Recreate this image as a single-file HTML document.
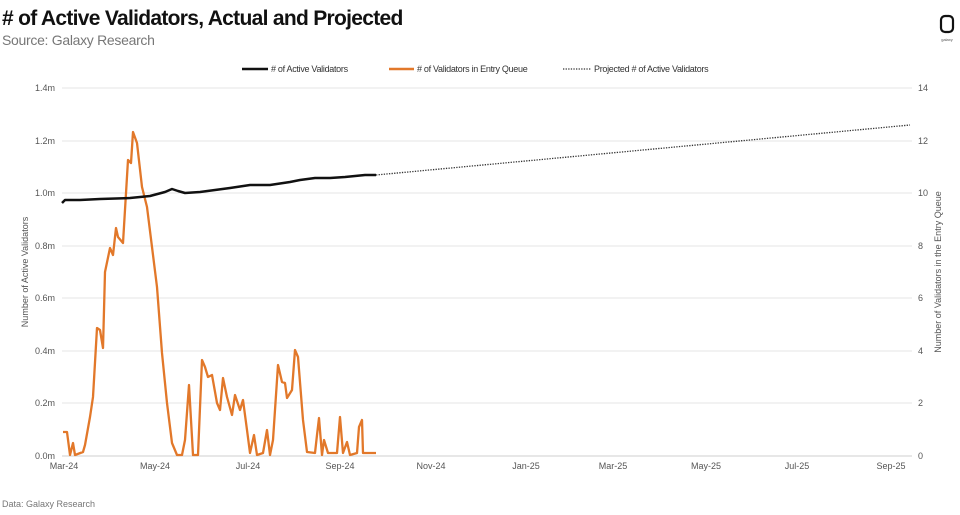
<!DOCTYPE html>
<html><head><meta charset="utf-8"><style>
body{margin:0;background:#fff;}
svg{display:block;font-family:"Liberation Sans",sans-serif;}
</style></head><body>
<svg width="960" height="515" viewBox="0 0 960 515">
<text x="2" y="25" font-size="21" font-weight="bold" fill="#111" letter-spacing="-0.7">&#35; of Active Validators, Actual and Projected</text>
<text x="2" y="45" font-size="14" fill="#777" letter-spacing="-0.3">Source: Galaxy Research</text>
<rect x="941" y="16" width="12" height="16" rx="4" fill="none" stroke="#111" stroke-width="2.2"/>
<text x="947" y="41" font-size="4" fill="#555" text-anchor="middle">galaxy</text>
<g font-size="9" fill="#333" letter-spacing="-0.3">
<line x1="242" y1="69" x2="268" y2="69" stroke="#111" stroke-width="2.5"/>
<text x="271" y="72">&#35; of Active Validators</text>
<line x1="389" y1="69" x2="414" y2="69" stroke="#e2782a" stroke-width="2.5"/>
<text x="417" y="72">&#35; of Validators in Entry Queue</text>
<line x1="563" y1="69" x2="591" y2="69" stroke="#333" stroke-width="1.3" stroke-dasharray="1.3,1.3"/>
<text x="594" y="72">Projected &#35; of Active Validators</text>
</g>
<g stroke="#e6e6e6" stroke-width="1">
<line x1="62" y1="88" x2="912" y2="88"/><line x1="62" y1="141" x2="912" y2="141"/>
<line x1="62" y1="193" x2="912" y2="193"/><line x1="62" y1="246" x2="912" y2="246"/>
<line x1="62" y1="298" x2="912" y2="298"/><line x1="62" y1="351" x2="912" y2="351"/>
<line x1="62" y1="403" x2="912" y2="403"/>
</g>
<line x1="62" y1="456" x2="912" y2="456" stroke="#cfcfcf"/>
<g font-size="9" fill="#555" text-anchor="end">
<text x="55" y="91">1.4m</text><text x="55" y="144">1.2m</text><text x="55" y="196">1.0m</text>
<text x="55" y="249">0.8m</text><text x="55" y="301">0.6m</text><text x="55" y="354">0.4m</text>
<text x="55" y="406">0.2m</text><text x="55" y="459">0.0m</text>
</g>
<g font-size="9" fill="#555">
<text x="918" y="91">14</text><text x="918" y="144">12</text><text x="918" y="196">10</text>
<text x="918" y="249">8</text><text x="918" y="301">6</text><text x="918" y="354">4</text>
<text x="918" y="406">2</text><text x="918" y="459">0</text>
</g>
<g font-size="9" fill="#555" text-anchor="middle">
<text x="64" y="469">Mar-24</text><text x="155" y="469">May-24</text><text x="248" y="469">Jul-24</text>
<text x="340" y="469">Sep-24</text><text x="431" y="469">Nov-24</text><text x="526" y="469">Jan-25</text>
<text x="613" y="469">Mar-25</text><text x="706" y="469">May-25</text><text x="797" y="469">Jul-25</text>
<text x="891" y="469">Sep-25</text>
</g>
<text transform="translate(28,272) rotate(-90)" font-size="9" fill="#555" text-anchor="middle">Number of Active Validators</text>
<text transform="translate(941,272) rotate(-90)" font-size="9" fill="#555" text-anchor="middle">Number of Validators in the Entry Queue</text>
<text x="2" y="507" font-size="9" fill="#777">Data: Galaxy Research</text>
<line x1="376" y1="175" x2="910" y2="125" stroke="#333" stroke-width="1.3" stroke-dasharray="1.3,1.3"/>
<polyline fill="none" stroke="#e2782a" stroke-width="2.3" stroke-linejoin="round" points="63,432 67,432 70,455 73,443 75,455 83,452 85,445 90,417 93,397 97,328 100,330 103,348 105,272 110,248 113,255 116,228 118,237 123,243 128,160 131,163 133,132 137,143 142,187 147,207 152,247 157,287 162,353 167,403 172,443 177,455 182,455 185,440 189,385 193,455 198,455 202,360 205,367 208,377 212,375 217,403 220,410 223,378 227,397 232,415 235,395 240,410 243,400 247,430 250,453 254,435 257,455 263,453 267,430 270,455 273,440 278,365 282,382 285,383 287,398 292,390 295,350 298,357 303,420 307,452 315,453 317,435 319,418 322,455 324,440 328,453 337,453 340,417 343,453 347,442 350,455 357,453 359,427 362,420 363,453 367,453 376,453"/>
<polyline fill="none" stroke="#111" stroke-width="2.5" stroke-linejoin="round" points="62,203 65,200 80,200 100,199 130,198 150,196 165,192 172,189 178,191 185,193 200,192 215,190 230,188 250,185 270,185 290,182 300,180 315,178 330,178 345,177 355,176 365,175 376,175"/>
</svg>
</body></html>
